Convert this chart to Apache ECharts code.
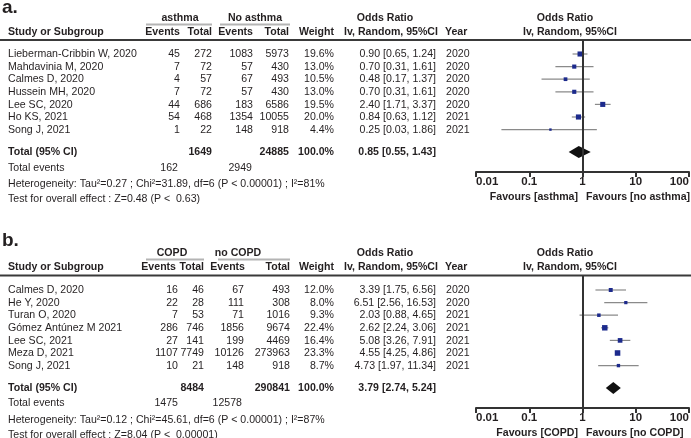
<!DOCTYPE html>
<html><head><meta charset="utf-8">
<script src="https://cdn.jsdelivr.net/npm/echarts@6/dist/echarts.min.js"></script>
<style>html,body{margin:0;padding:0;background:#fff}#c{width:691px;height:438px}</style>
</head><body><div id="c"></div>
<script>
// ---------- data: panel a (asthma) ----------
const aStudies = ['Lieberman-Cribbin W, 2020','Mahdavinia M, 2020','Calmes D, 2020','Hussein MH, 2020','Lee SC, 2020','Ho KS, 2021','Song J, 2021'];
const aEvents1 = [45, 7, 4, 7, 44, 54, 1];
const aTotal1  = [272, 72, 57, 72, 686, 468, 22];
const aEvents2 = [1083, 57, 67, 57, 183, 1354, 148];
const aTotal2  = [5973, 430, 493, 430, 6586, 10055, 918];
const aWeight  = [19.6, 13.0, 10.5, 13.0, 19.5, 20.0, 4.4];
const aOR      = [0.90, 0.70, 0.48, 0.70, 2.40, 0.84, 0.25];
const aLo      = [0.65, 0.31, 0.17, 0.31, 1.71, 0.63, 0.03];
const aHi      = [1.24, 1.61, 1.37, 1.61, 3.37, 1.12, 1.86];
const aYear    = [2020, 2020, 2020, 2020, 2020, 2021, 2021];
const aTotalN      = [1649, 24885];
const aTotalWeight = 100.0;
const aTotalEvents = [162, 2949];
const aPooled      = [0.85, 0.55, 1.43];
const aGroups  = ['asthma', 'No asthma'];
const aFavours = ['Favours [asthma]', 'Favours [no asthma]'];
const aHet  = 'Heterogeneity: Tau\u00B2=0.27 ; Chi\u00B2=31.89, df=6 (P < 0.00001) ; I\u00B2=81%';
const aTest = 'Test for overall effect : Z=0.48 (P <  0.63)';

// ---------- data: panel b (COPD) ----------
const bStudies = ['Calmes D, 2020','He Y, 2020','Turan O, 2020','G\u00F3mez Ant\u00FAnez M 2021','Lee SC, 2021','Meza D, 2021','Song J, 2021'];
const bEvents1 = [16, 22, 7, 286, 27, 1107, 10];
const bTotal1  = [46, 28, 53, 746, 141, 7749, 21];
const bEvents2 = [67, 111, 71, 1856, 199, 10126, 148];
const bTotal2  = [493, 308, 1016, 9674, 4469, 273963, 918];
const bWeight  = [12.0, 8.0, 9.3, 22.4, 16.4, 23.3, 8.7];
const bOR      = [3.39, 6.51, 2.03, 2.62, 5.08, 4.55, 4.73];
const bLo      = [1.75, 2.56, 0.88, 2.24, 3.26, 4.25, 1.97];
const bHi      = [6.56, 16.53, 4.65, 3.06, 7.91, 4.86, 11.34];
const bYear    = [2020, 2020, 2021, 2021, 2021, 2021, 2021];
const bTotalN      = [8484, 290841];
const bTotalWeight = 100.0;
const bTotalEvents = [1475, 12578];
const bPooled      = [3.79, 2.74, 5.24];
const bGroups  = ['COPD', 'no COPD'];
const bFavours = ['Favours [COPD]', 'Favours [no COPD]'];
const bHet  = 'Heterogeneity: Tau\u00B2=0.12 ; Chi\u00B2=45.61, df=6 (P < 0.00001) ; I\u00B2=87%';
const bTest = 'Test for overall effect : Z=8.04 (P <  0.00001)';

// ---------- axis ticks & headers ----------
const xTicks      = [0.01, 0.1, 1, 10, 100];
const xTickLabels = ['0.01', '0.1', '1', '10', '100'];
const headStudy = 'Study or Subgroup';
const headCols  = ['Events', 'Total', 'Events', 'Total', 'Weight'];
const headOR    = ['Odds Ratio', 'Iv, Random, 95%CI'];
const headYear  = 'Year';

// ---------- layout & style ----------
const FONT = '"Liberation Sans", Arial, Helvetica, sans-serif';
const TXT = '#231f20';
const BODY = 11.5, HEAD = 11.5, SX = 0.92;
const L = { row0: 54, rowStep: 12.6, tableH: 200, fTop: 40, fBottom: 172, fLeft: 476, fWidth: 213 };
const rowAt = py => (py - L.row0) / L.rowStep;

const panels = [
  { top: 0, tag: 'a.', tagY: 7.5, studies: aStudies, ev1: aEvents1, tot1: aTotal1, ev2: aEvents2, tot2: aTotal2, wt: aWeight,
    or: aOR, lo: aLo, hi: aHi, year: aYear, totalN: aTotalN, totalW: aTotalWeight, totalEv: aTotalEvents, pooled: aPooled, groups: aGroups,
    favours: aFavours, het: aHet, test: aTest,
    col: { ev1: 180, tot1: 212, ev2: 253, tot2: 289, wt: 334, or: 436, year: 446 },
    head: [180, 212, 253, 289, 334],
    grp: { c1: 180, a1: 146, b1: 212, c2: 255, a2: 220, b2: 290 },
    totEvX: [178, 252], totNX: [212, 289], yG: 17.5, yU: 24.5, yH: 32, yRule: 40, yEv: 168, yTest: 199 },
  { top: 236, tag: 'b.', tagY: 5, studies: bStudies, ev1: bEvents1, tot1: bTotal1, ev2: bEvents2, tot2: bTotal2, wt: bWeight,
    or: bOR, lo: bLo, hi: bHi, year: bYear, totalN: bTotalN, totalW: bTotalWeight, totalEv: bTotalEvents, pooled: bPooled, groups: bGroups,
    favours: bFavours, het: bHet, test: bTest,
    col: { ev1: 178, tot1: 204, ev2: 244, tot2: 290, wt: 334, or: 436, year: 446 },
    head: [176, 204, 245, 290, 334],
    grp: { c1: 172, a1: 146, b1: 204, c2: 238, a2: 218, b2: 290 },
    totEvX: [178, 242], totNX: [204, 290], yG: 17, yU: 23.5, yH: 30.5, yRule: 39.5, yEv: 167, yTest: 198.5 }
];

const fmt2 = v => v.toFixed(2);
const orText = (o, l, h) => fmt2(o) + ' [' + fmt2(l) + ', ' + fmt2(h) + ']';

function buildCells(P) {
  const cells = [];
  const add = (x, row, text, align, bold, size, sx) => cells.push({ x, row, text: String(text), align, bold, size: size || BODY, sx: sx || SX });
  add(2, rowAt(P.tagY), P.tag, 'left', true, 19, 1);
  add(P.grp.c1, rowAt(P.yG), P.groups[0], 'center', true, HEAD);
  add(P.grp.c2, rowAt(P.yG), P.groups[1], 'center', true, HEAD);
  add(385, rowAt(P.yG), headOR[0], 'center', true, HEAD);
  add(565, rowAt(P.yG), headOR[0], 'center', true, HEAD);
  add(8, rowAt(P.yH), headStudy, 'left', true, HEAD);
  headCols.forEach((h, k) => add(P.head[k], rowAt(P.yH), h, 'right', true, HEAD));
  add(391, rowAt(P.yH), headOR[1], 'center', true, HEAD);
  add(570, rowAt(P.yH), headOR[1], 'center', true, HEAD);
  add(445, rowAt(P.yH), headYear, 'left', true, HEAD);
  P.studies.forEach((s, i) => {
    add(8, i, s, 'left');
    add(P.col.ev1, i, P.ev1[i], 'right');
    add(P.col.tot1, i, P.tot1[i], 'right');
    add(P.col.ev2, i, P.ev2[i], 'right');
    add(P.col.tot2, i, P.tot2[i], 'right');
    add(P.col.wt, i, P.wt[i].toFixed(1) + '%', 'right');
    add(P.col.or, i, orText(P.or[i], P.lo[i], P.hi[i]), 'right');
    add(P.col.year, i, P.year[i], 'left');
  });
  const tr = rowAt(152);
  add(8, tr, 'Total (95% CI)', 'left', true);
  add(P.totNX[0], tr, P.totalN[0], 'right', true);
  add(P.totNX[1], tr, P.totalN[1], 'right', true);
  add(P.col.wt, tr, P.totalW.toFixed(1) + '%', 'right', true);
  add(P.col.or, tr, orText(P.pooled[0], P.pooled[1], P.pooled[2]), 'right', true);
  add(8, rowAt(P.yEv), 'Total events', 'left');
  add(P.totEvX[0], rowAt(P.yEv), P.totalEv[0], 'right');
  add(P.totEvX[1], rowAt(P.yEv), P.totalEv[1], 'right');
  add(8, rowAt(184), P.het, 'left');
  add(8, rowAt(P.yTest), P.test, 'left');
  add(578, rowAt(197), P.favours[0], 'right', true);
  add(586, rowAt(197), P.favours[1], 'left', true);
  return cells;
}
function buildRules(P) {
  return [
    { x1: 0, x2: 691, row: rowAt(P.yRule), color: '#3a3a3a', w: 2 },
    { x1: P.grp.a1, x2: P.grp.b1, row: rowAt(P.yU), color: '#b4b4b4', w: 2 },
    { x1: P.grp.a2, x2: P.grp.b2, row: rowAt(P.yU), color: '#b4b4b4', w: 2 }
  ];
}

const grids = [], xAxes = [], yAxes = [], series = [];
panels.forEach((P) => {
  const gT = grids.length;
  grids.push({ left: 0, top: P.top, width: 691, height: L.tableH, outerBoundsMode: 'none', containLabel: false });
  grids.push({ left: L.fLeft, top: P.top + L.fTop, width: L.fWidth, height: L.fBottom - L.fTop, outerBoundsMode: 'none', containLabel: false });
  const gF = gT + 1;
  const xT = xAxes.length;
  xAxes.push({ gridIndex: gT, type: 'value', min: 0, max: 691, show: false });
  const xF = xAxes.length;
  const logBase = { gridIndex: gF, type: 'log', logBase: 10, min: xTicks[0], max: xTicks[xTicks.length - 1], splitLine: { show: false } };
  xAxes.push(Object.assign({}, logBase, {
    position: 'bottom',
    axisLine: { show: true, onZero: false, lineStyle: { color: '#333', width: 2 } },
    axisTick: { show: true, inside: false, length: 5, lineStyle: { color: '#333', width: 2 } },
    axisLabel: { show: true, margin: 4, color: TXT, fontFamily: FONT, fontWeight: 'bold', fontSize: 11.5, alignMinLabel: 'left', alignMaxLabel: 'right',
      formatter: v => { const k = xTicks.findIndex(t => Math.abs(t - v) / t < 1e-6); return k >= 0 ? xTickLabels[k] : ''; } }
  }));
  const yT = yAxes.length;
  yAxes.push({ gridIndex: gT, type: 'value', inverse: true, min: rowAt(0), max: rowAt(L.tableH), show: false });
  const yF = yAxes.length;
  yAxes.push({ gridIndex: gF, type: 'value', inverse: true, min: rowAt(L.fTop), max: rowAt(L.fBottom), show: false });

  const cells = buildCells(P);
  series.push({
    type: 'custom', xAxisIndex: xT, yAxisIndex: yT, clip: false, silent: true, z: 5,
    data: cells.map(c => [c.x, c.row]),
    renderItem: (params, api) => {
      const c = cells[params.dataIndex];
      const p = api.coord([api.value(0), api.value(1)]);
      return { type: 'text', x: p[0], y: p[1], scaleX: c.sx, scaleY: 1, style: {
        text: c.text, font: (c.bold ? 'bold ' : '') + c.size + 'px ' + FONT, fill: TXT,
        textAlign: c.align, align: c.align, textVerticalAlign: 'middle', verticalAlign: 'middle' } };
    }
  });
  const rules = buildRules(P);
  series.push({
    type: 'custom', xAxisIndex: xT, yAxisIndex: yT, clip: false, silent: true, z: 1,
    data: rules.map(r => [r.x1, r.row, r.x2]),
    renderItem: (params, api) => {
      const r = rules[params.dataIndex];
      const a = api.coord([api.value(0), api.value(1)]);
      const b = api.coord([api.value(2), api.value(1)]);
      return { type: 'line', shape: { x1: a[0], y1: a[1], x2: b[0], y2: b[1] }, style: { stroke: r.color, lineWidth: r.w } };
    }
  });
  // null line at OR = 1
  series.push({
    type: 'scatter', xAxisIndex: xF, yAxisIndex: yF, data: [], silent: true, z: 2,
    markLine: { silent: true, symbol: ['none', 'none'], label: { show: false }, animation: false,
      lineStyle: { color: '#333', width: 2, type: 'solid' }, data: [{ xAxis: 1 }] }
  });
  // study estimates
  series.push({
    type: 'custom', xAxisIndex: xF, yAxisIndex: yF, clip: false, silent: true, z: 3,
    data: P.studies.map((s, i) => [P.or[i], i, P.lo[i], P.hi[i], P.wt[i]]),
    renderItem: (params, api) => {
      const c = api.coord([api.value(0), api.value(1)]);
      const l = api.coord([api.value(2), api.value(1)]);
      const h = api.coord([api.value(3), api.value(1)]);
      const s = Math.sqrt(api.value(4)) * 1.15;
      return { type: 'group', children: [
        { type: 'line', shape: { x1: l[0], y1: l[1], x2: h[0], y2: h[1] }, style: { stroke: '#8a8a8a', lineWidth: 1.2 } },
        { type: 'rect', shape: { x: c[0] - s / 2, y: c[1] - s / 2, width: s, height: s }, style: { fill: '#1c2a8c' } }
      ] };
    }
  });
  // pooled diamond
  series.push({
    type: 'custom', xAxisIndex: xF, yAxisIndex: yF, clip: false, silent: true, z: 4,
    data: [[P.pooled[0], rowAt(152), P.pooled[1], P.pooled[2]]],
    renderItem: (params, api) => {
      const c = api.coord([api.value(0), api.value(1)]);
      const l = api.coord([api.value(2), api.value(1)]);
      const h = api.coord([api.value(3), api.value(1)]);
      const hh = 6;
      return { type: 'polygon', shape: { points: [[l[0], c[1]], [c[0], c[1] - hh], [h[0], c[1]], [c[0], c[1] + hh]] }, style: { fill: '#111' } };
    }
  });
});

const chart = echarts.init(document.getElementById('c'), null, { renderer: 'canvas' });
chart.setOption({ animation: false, backgroundColor: '#fff', grid: grids, xAxis: xAxes, yAxis: yAxes, series: series });
</script>
</body></html>
